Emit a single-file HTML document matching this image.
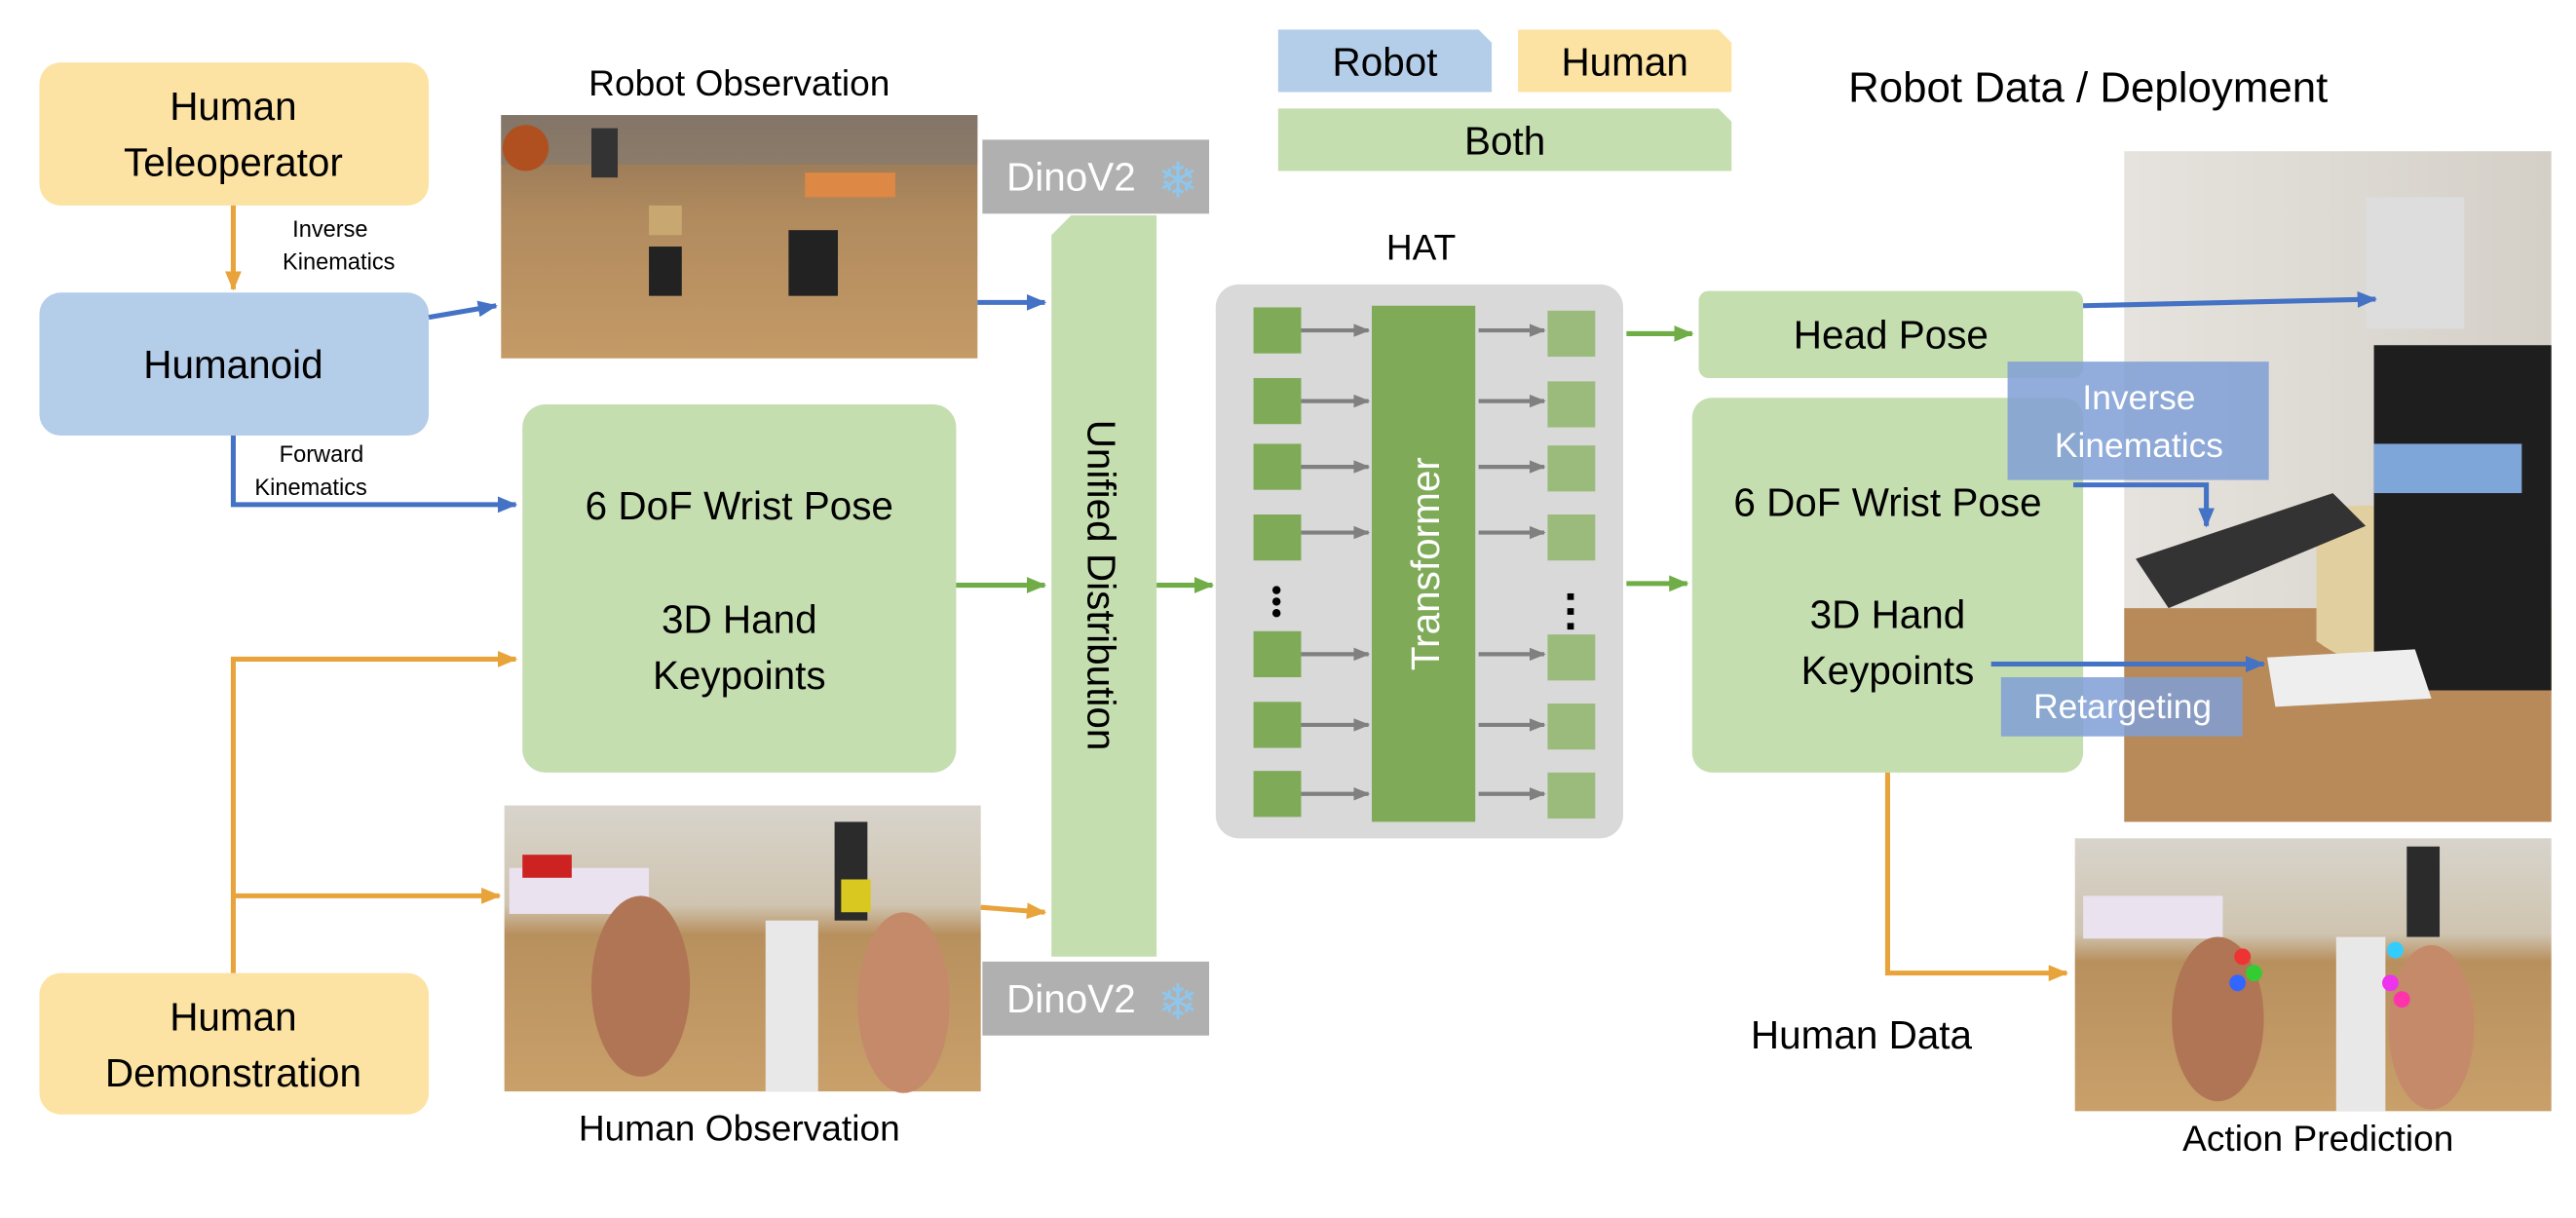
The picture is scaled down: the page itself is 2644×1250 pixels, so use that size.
<!DOCTYPE html>
<html><head><meta charset="utf-8"><style>
html,body{margin:0;padding:0;background:#fff;}
svg{display:block;}
text{font-family:"Liberation Sans",Arial,sans-serif;}
</style></head><body>
<svg width="2644" height="1250" viewBox="0 0 1568 741" preserveAspectRatio="none" xmlns="http://www.w3.org/2000/svg">
<defs>
<marker id="ab" markerWidth="12" markerHeight="10" refX="11" refY="5" orient="auto" markerUnits="userSpaceOnUse"><path d="M0,0 L12,5 L0,10z" fill="#4472c4"/></marker>
<marker id="ag" markerWidth="12" markerHeight="10" refX="11" refY="5" orient="auto" markerUnits="userSpaceOnUse"><path d="M0,0 L12,5 L0,10z" fill="#70ad47"/></marker>
<marker id="aO" markerWidth="12" markerHeight="10" refX="11" refY="5" orient="auto" markerUnits="userSpaceOnUse"><path d="M0,0 L12,5 L0,10z" fill="#e8a33a"/></marker>
<marker id="ay" markerWidth="10" markerHeight="8" refX="9" refY="4" orient="auto" markerUnits="userSpaceOnUse"><path d="M0,0 L10,4 L0,8z" fill="#808080"/></marker>
<linearGradient id="wood" x1="0" y1="0" x2="0" y2="1"><stop offset="0" stop-color="#8c7055"/><stop offset="0.4" stop-color="#b08a5e"/><stop offset="1" stop-color="#c49a66"/></linearGradient>
<linearGradient id="wood2" x1="0" y1="0" x2="0" y2="1"><stop offset="0" stop-color="#d8d4cc"/><stop offset="0.35" stop-color="#cfc4b0"/><stop offset="0.45" stop-color="#b8905e"/><stop offset="1" stop-color="#c9a06a"/></linearGradient>
<linearGradient id="room" x1="0" y1="0" x2="1" y2="0"><stop offset="0" stop-color="#e6e3de"/><stop offset="1" stop-color="#d4d0c8"/></linearGradient>
</defs>

<rect x="24" y="38" width="237" height="87" rx="13" fill="#fce3a3"/>
<text x="142" y="73" font-size="24" text-anchor="middle">Human</text>
<text x="142" y="107" font-size="24" text-anchor="middle">Teleoperator</text>
<rect x="24" y="178" width="237" height="87" rx="13" fill="#b4cde8"/>
<text x="142" y="230" font-size="24" text-anchor="middle">Humanoid</text>
<rect x="24" y="592" width="237" height="86" rx="13" fill="#fce3a3"/>
<text x="142" y="627" font-size="24" text-anchor="middle">Human</text>
<text x="142" y="661" font-size="24" text-anchor="middle">Demonstration</text>

<line x1="142" y1="125" x2="142" y2="176" stroke="#e8a33a" stroke-width="3" marker-end="url(#aO)"/>
<text x="178" y="144" font-size="14">Inverse</text>
<text x="172" y="164" font-size="14">Kinematics</text>
<line x1="261" y1="193" x2="302" y2="186" stroke="#4472c4" stroke-width="3" marker-end="url(#ab)"/>
<polyline points="142,265 142,307 314,307" fill="none" stroke="#4472c4" stroke-width="3" marker-end="url(#ab)"/>
<text x="170" y="281" font-size="14">Forward</text>
<text x="155" y="301" font-size="14">Kinematics</text>
<polyline points="142,592 142,401 314,401" fill="none" stroke="#e8a33a" stroke-width="3" marker-end="url(#aO)"/>
<line x1="142" y1="545" x2="304" y2="545" stroke="#e8a33a" stroke-width="3" marker-end="url(#aO)"/>

<text x="450" y="58" font-size="22" text-anchor="middle">Robot Observation</text>
<rect x="305" y="70" width="290" height="148" fill="url(#wood)"/>
<rect x="305" y="70" width="290" height="30" fill="#7a7a7a" opacity="0.5"/>
<rect x="395" y="150" width="20" height="30" fill="#222"/><rect x="480" y="140" width="30" height="40" fill="#222"/>
<rect x="395" y="125" width="20" height="18" fill="#c8a870"/><rect x="490" y="105" width="55" height="15" fill="#d84"/>
<circle cx="320" cy="90" r="14" fill="#b05020"/>
<rect x="360" y="78" width="16" height="30" fill="#333"/>
<rect x="307" y="490" width="290" height="174" fill="url(#wood2)"/>
<rect x="310" y="528" width="85" height="28" fill="#eae2ee"/><rect x="318" y="520" width="30" height="14" fill="#c22"/>
<rect x="508" y="500" width="20" height="60" fill="#2b2b2b"/><rect x="512" y="535" width="18" height="20" fill="#d8c820"/>
<rect x="466" y="560" width="32" height="104" fill="#e8e8e8"/>
<ellipse cx="390" cy="600" rx="30" ry="55" fill="#b07555"/>
<ellipse cx="550" cy="610" rx="28" ry="55" fill="#c48a6a"/>
<text x="450" y="694" font-size="22" text-anchor="middle">Human Observation</text>

<line x1="595" y1="184" x2="636" y2="184" stroke="#4472c4" stroke-width="3" marker-end="url(#ab)"/>
<line x1="597" y1="552" x2="636" y2="555" stroke="#e8a33a" stroke-width="3" marker-end="url(#aO)"/>

<rect x="318" y="246" width="264" height="224" rx="14" fill="#c5deb0"/>
<text x="450" y="316" font-size="24" text-anchor="middle">6 DoF Wrist Pose</text>
<text x="450" y="385" font-size="24" text-anchor="middle">3D Hand</text>
<text x="450" y="419" font-size="24" text-anchor="middle">Keypoints</text>
<line x1="582" y1="356" x2="636" y2="356" stroke="#70ad47" stroke-width="3" marker-end="url(#ag)"/>

<rect x="598" y="85" width="138" height="45" fill="#b0b0b0"/>
<text x="652" y="116" font-size="24" fill="#fff" text-anchor="middle">DinoV2</text>
<text x="717" y="120" font-size="30" fill="#8ec7ee" text-anchor="middle">❄</text>
<rect x="598" y="585" width="138" height="45" fill="#b0b0b0"/>
<text x="652" y="616" font-size="24" fill="#fff" text-anchor="middle">DinoV2</text>
<text x="717" y="620" font-size="30" fill="#8ec7ee" text-anchor="middle">❄</text>

<path d="M652,131 L704,131 L704,582 L640,582 L640,143 Z" fill="#c5deb0"/>
<text transform="translate(662,356) rotate(90)" font-size="24" text-anchor="middle">Unified Distribution</text>
<line x1="704" y1="356" x2="738" y2="356" stroke="#70ad47" stroke-width="3" marker-end="url(#ag)"/>

<text x="865" y="158" font-size="22" text-anchor="middle">HAT</text>
<rect x="740" y="173" width="248" height="337" rx="14" fill="#d9d9d9"/>
<rect x="835" y="186" width="63" height="314" fill="#7fab59"/>
<text transform="translate(876,343) rotate(-90)" font-size="24" fill="#fff" text-anchor="middle">Transformer</text>
<g fill="#7fab59">
<rect x="763" y="187" width="29" height="28"/><rect x="763" y="230" width="29" height="28"/><rect x="763" y="270" width="29" height="28"/><rect x="763" y="313" width="29" height="28"/>
<rect x="763" y="384" width="29" height="28"/><rect x="763" y="427" width="29" height="28"/><rect x="763" y="469" width="29" height="28"/>
</g>
<g fill="#9bbb7c">
<rect x="942" y="189" width="29" height="28"/><rect x="942" y="232" width="29" height="28"/><rect x="942" y="271" width="29" height="28"/><rect x="942" y="313" width="29" height="28"/>
<rect x="942" y="386" width="29" height="28"/><rect x="942" y="428" width="29" height="28"/><rect x="942" y="470" width="29" height="28"/>
</g>
<g fill="#000"><circle cx="777" cy="359" r="2.5"/><circle cx="777" cy="366" r="2.5"/><circle cx="777" cy="373" r="2.5"/>
<rect x="954" y="361" width="4" height="4"/><rect x="954" y="370" width="4" height="4"/><rect x="954" y="379" width="4" height="4"/></g>
<g stroke="#808080" stroke-width="2.5">
<line x1="792" y1="201" x2="833" y2="201" marker-end="url(#ay)"/><line x1="792" y1="244" x2="833" y2="244" marker-end="url(#ay)"/><line x1="792" y1="284" x2="833" y2="284" marker-end="url(#ay)"/><line x1="792" y1="324" x2="833" y2="324" marker-end="url(#ay)"/>
<line x1="792" y1="398" x2="833" y2="398" marker-end="url(#ay)"/><line x1="792" y1="441" x2="833" y2="441" marker-end="url(#ay)"/><line x1="792" y1="483" x2="833" y2="483" marker-end="url(#ay)"/>
<line x1="900" y1="201" x2="940" y2="201" marker-end="url(#ay)"/><line x1="900" y1="244" x2="940" y2="244" marker-end="url(#ay)"/><line x1="900" y1="284" x2="940" y2="284" marker-end="url(#ay)"/><line x1="900" y1="324" x2="940" y2="324" marker-end="url(#ay)"/>
<line x1="900" y1="398" x2="940" y2="398" marker-end="url(#ay)"/><line x1="900" y1="441" x2="940" y2="441" marker-end="url(#ay)"/><line x1="900" y1="483" x2="940" y2="483" marker-end="url(#ay)"/>
</g>
<line x1="990" y1="203" x2="1030" y2="203" stroke="#70ad47" stroke-width="3" marker-end="url(#ag)"/>
<line x1="990" y1="355" x2="1027" y2="355" stroke="#70ad47" stroke-width="3" marker-end="url(#ag)"/>

<path d="M778,18 L900,18 L908,26 L908,56 L778,56 Z" fill="#b4cde8"/>
<text x="843" y="46" font-size="24" text-anchor="middle">Robot</text>
<path d="M924,18 L1046,18 L1054,26 L1054,56 L924,56 Z" fill="#fce3a3"/>
<text x="989" y="46" font-size="24" text-anchor="middle">Human</text>
<path d="M778,66 L1046,66 L1054,74 L1054,104 L778,104 Z" fill="#c5deb0"/>
<text x="916" y="94" font-size="24" text-anchor="middle">Both</text>

<text x="1271" y="62" font-size="26" text-anchor="middle">Robot Data / Deployment</text>

<rect x="1293" y="92" width="260" height="408" fill="url(#room)"/>
<rect x="1293" y="370" width="260" height="130" fill="#b88a5a"/>
<path d="M1410,310 Q1470,300 1553,330 L1553,420 Q1450,420 1410,390 Z" fill="#e2cfa0"/>
<rect x="1445" y="210" width="108" height="210" fill="#1e1e1e"/>
<rect x="1445" y="270" width="90" height="30" fill="#7ea6d8"/>
<rect x="1440" y="120" width="60" height="80" fill="#ddd"/>
<path d="M1300,340 L1420,300 L1440,320 L1320,370 Z" fill="#333"/>
<path d="M1380,400 L1470,395 L1480,425 L1385,430 Z" fill="#eee"/>

<rect x="1034" y="177" width="234" height="53" rx="6" fill="#c5deb0"/>
<text x="1151" y="212" font-size="24" text-anchor="middle">Head Pose</text>
<rect x="1030" y="242" width="238" height="228" rx="12" fill="#c5deb0"/>
<text x="1149" y="314" font-size="24" text-anchor="middle">6 DoF Wrist Pose</text>
<text x="1149" y="382" font-size="24" text-anchor="middle">3D Hand</text>
<text x="1149" y="416" font-size="24" text-anchor="middle">Keypoints</text>

<line x1="1268" y1="186" x2="1446" y2="182" stroke="#4472c4" stroke-width="3" marker-end="url(#ab)"/>
<rect x="1222" y="220" width="159" height="72" fill="#7f9fd6" opacity="0.85"/>
<text x="1302" y="249" font-size="21" fill="#fff" text-anchor="middle">Inverse</text>
<text x="1302" y="278" font-size="21" fill="#fff" text-anchor="middle">Kinematics</text>
<polyline points="1262,295 1343,295 1343,320" fill="none" stroke="#4472c4" stroke-width="3" marker-end="url(#ab)"/>
<line x1="1212" y1="404" x2="1378" y2="404" stroke="#4472c4" stroke-width="3" marker-end="url(#ab)"/>
<rect x="1218" y="412" width="147" height="36" fill="#7f9fd6" opacity="0.85"/>
<text x="1292" y="437" font-size="21" fill="#fff" text-anchor="middle">Retargeting</text>

<polyline points="1149,470 1149,592 1258,592" fill="none" stroke="#e8a33a" stroke-width="3" marker-end="url(#aO)"/>
<text x="1133" y="638" font-size="24" text-anchor="middle">Human Data</text>

<rect x="1263" y="510" width="290" height="166" fill="url(#wood2)"/>
<rect x="1268" y="545" width="85" height="26" fill="#eae2ee"/>
<rect x="1465" y="515" width="20" height="55" fill="#2b2b2b"/>
<rect x="1422" y="570" width="30" height="106" fill="#e8e8e8"/>
<ellipse cx="1350" cy="620" rx="28" ry="50" fill="#b07555"/>
<ellipse cx="1480" cy="625" rx="26" ry="50" fill="#c48a6a"/>
<circle cx="1365" cy="582" r="5" fill="#e33"/><circle cx="1372" cy="592" r="5" fill="#3c3"/><circle cx="1362" cy="598" r="5" fill="#36f"/>
<circle cx="1458" cy="578" r="5" fill="#3cf"/><circle cx="1455" cy="598" r="5" fill="#e3e"/><circle cx="1462" cy="608" r="5" fill="#f3a"/>
<text x="1411" y="700" font-size="22" text-anchor="middle">Action Prediction</text>
</svg>
</body></html>
